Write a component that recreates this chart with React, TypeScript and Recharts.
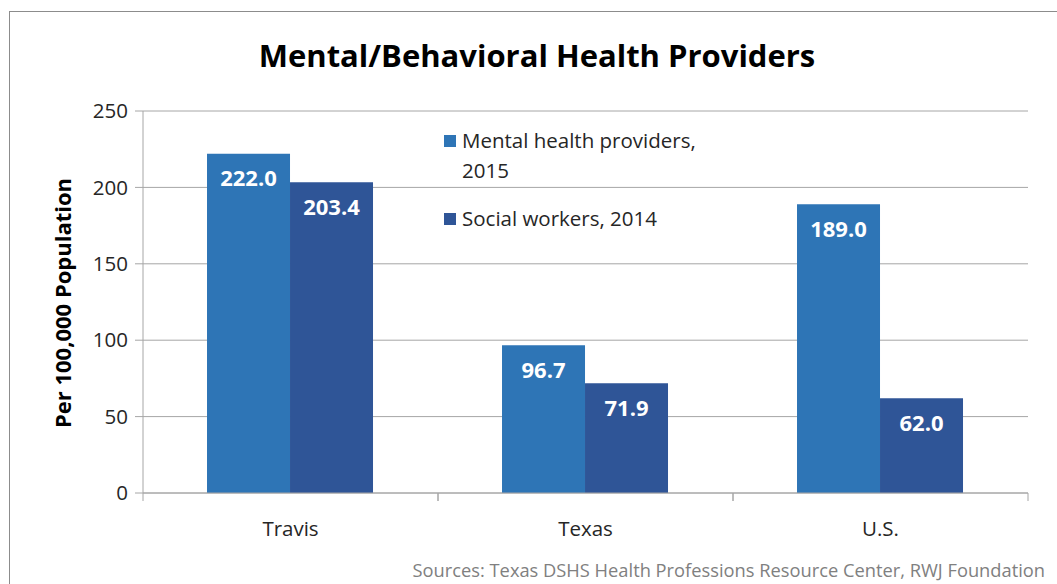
import React from 'react';
import { BarChart, Bar, XAxis, YAxis, CartesianGrid, LabelList } from 'recharts';

const categories = ['Travis', 'Texas', 'U.S.'];
const mentalHealth2015 = [222.0, 96.7, 189.0];
const socialWorkers2014 = [203.4, 71.9, 62.0];
const yTicks = [0, 50, 100, 150, 200, 250];

const series = [
  { key: 'mental', name: 'Mental health providers, 2015', lines: ['Mental health providers,', '2015'], color: '#2E75B6', values: mentalHealth2015 },
  { key: 'social', name: 'Social workers, 2014', lines: ['Social workers, 2014'], color: '#2F5597', values: socialWorkers2014 },
];

const data = categories.map((c, i) => ({
  name: c,
  mental: mentalHealth2015[i],
  social: socialWorkers2014[i],
}));

const FONT = '"Open Sans", sans-serif';
const GRID = '#a6a6a6';
const TICK_SIZE = 8;
const TICK_MARGIN = 20;

const CategoryTick = (props: any) => {
  const { x, y, payload } = props;
  const half = payload && payload.offset ? payload.offset : 0;
  const axisY = y - TICK_MARGIN - TICK_SIZE;
  return (
    <g>
      <line x1={x - half} x2={x - half} y1={axisY} y2={axisY + TICK_SIZE} stroke={GRID} />
      <line x1={x + half} x2={x + half} y1={axisY} y2={axisY + TICK_SIZE} stroke={GRID} />
      <text x={x} y={y} dy="0.71em" textAnchor="middle" fill="#262626" fontSize={20.5} fontFamily={FONT}>
        {payload.value}
      </text>
    </g>
  );
};

const LegendBox = () => (
  <div style={{ fontFamily: FONT, fontSize: 20.5, color: '#262626' }}>
    {series.map((s, idx) => (
      <div key={s.key} style={{ display: 'flex', alignItems: 'flex-start', marginBottom: idx === 0 ? 18 : 0 }}>
        <div style={{ width: 12, height: 12, background: s.color, marginTop: 10, marginRight: 6 }} />
        <div style={{ lineHeight: '30px' }}>
          {s.lines.map((l, j) => (<div key={j}>{l}</div>))}
        </div>
      </div>
    ))}
  </div>
);

const fmt = (v: number) => v.toFixed(1);

export default function App() {
  return (
    <div style={{ position: 'absolute', left: 0, top: 0, width: 1057, height: 584, overflow: 'hidden', background: '#fff' }}>
      <div style={{ position: 'absolute', left: 9, top: 11, width: 1100, height: 620, border: '1px solid #8c8c8c', boxSizing: 'border-box' }} />
      <div style={{ position: 'absolute', left: 0, top: 33, width: 1074, textAlign: 'center', fontFamily: FONT, fontWeight: 700, fontSize: 31, color: '#000', lineHeight: '44px' }}>
        Mental/Behavioral Health Providers
      </div>
      <div style={{ position: 'absolute', left: 62, top: 303, transform: 'translate(-50%, -50%) rotate(-90deg)', whiteSpace: 'nowrap', fontFamily: FONT, fontWeight: 700, fontSize: 22, color: '#000' }}>
        Per 100,000 Population
      </div>
      <div style={{ position: 'absolute', right: 12, top: 557, fontFamily: FONT, fontSize: 18.3, color: '#808080', whiteSpace: 'nowrap', lineHeight: '26px' }}>
        Sources: Texas DSHS Health Professions Resource Center, RWJ Foundation
      </div>
      <div style={{ position: 'absolute', left: 0, top: 0 }}>
        <BarChart width={1057} height={584} data={data} margin={{ top: 111, right: 29, bottom: 0, left: 63 }} barCategoryGap="21.7%" barGap={0}>
          <CartesianGrid vertical={false} stroke={GRID} />
          <XAxis dataKey="name" tickLine={false} axisLine={{ stroke: GRID }} tick={<CategoryTick />} tickSize={TICK_SIZE} tickMargin={TICK_MARGIN} height={91} />
          <YAxis domain={[0, 250]} ticks={yTicks} width={80} axisLine={{ stroke: GRID }} tickLine={{ stroke: GRID }} tickSize={8} tickMargin={7} tick={{ fill: '#262626', fontSize: 20.5, fontFamily: FONT }} />
          {series.map((s) => (
            <Bar key={s.key} dataKey={s.key} name={s.name} fill={s.color} isAnimationActive={false}>
              <LabelList dataKey={s.key} position="insideTop" offset={17} formatter={fmt} style={{ fill: '#fff', fontWeight: 700, fontSize: 22, fontFamily: FONT }} />
            </Bar>
          ))}
        </BarChart>
      </div>
      <div style={{ position: 'absolute', left: 444, top: 125, width: 340 }}>
        <LegendBox />
      </div>
    </div>
  );
}
